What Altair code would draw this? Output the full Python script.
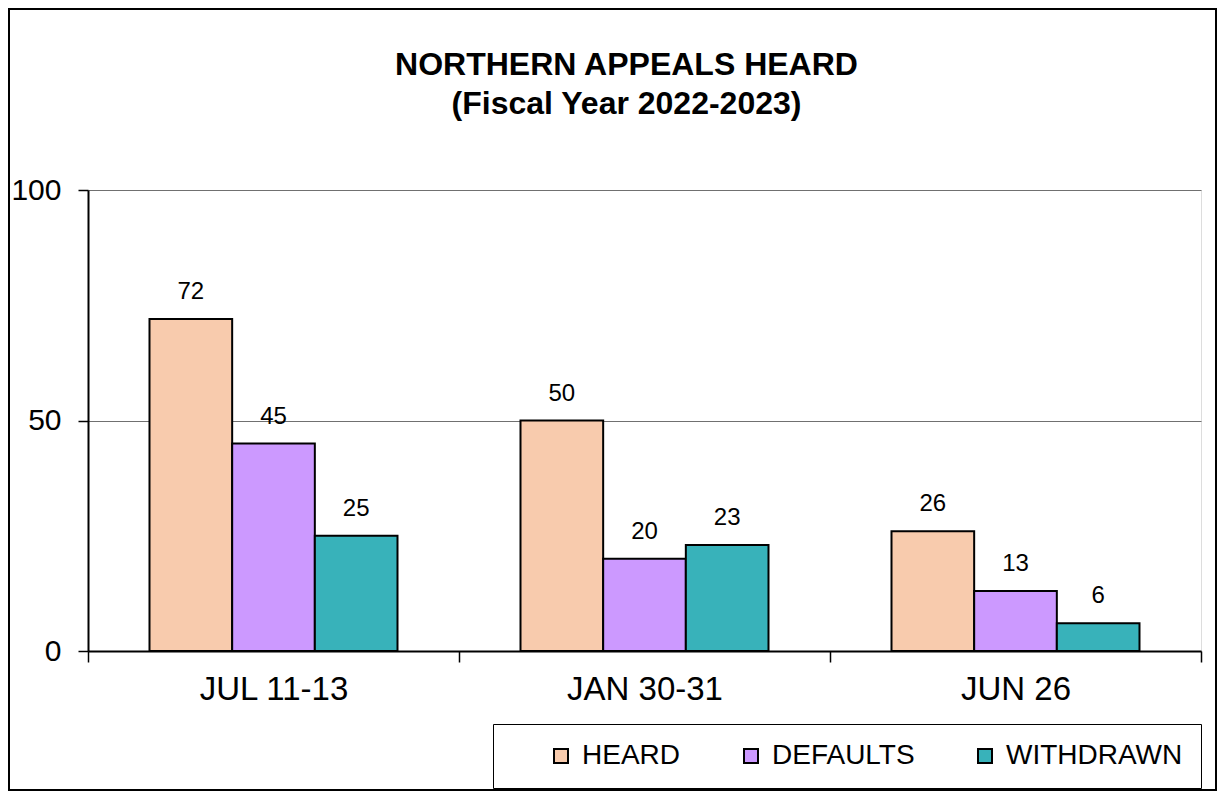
import altair as alt
import pandas as pd

categories = ["JUL 11-13", "JAN 30-31", "JUN 26"]
series = ["HEARD", "DEFAULTS", "WITHDRAWN"]
heard = [72, 50, 26]
defaults = [45, 20, 13]
withdrawn = [25, 23, 6]
colors = ["#F8CBAD", "#CC99FF", "#38B2BA"]
title_lines = ["NORTHERN APPEALS HEARD", "(Fiscal Year 2022-2023)"]
y_ticks = [0, 50, 100]

rows = []
for i, c in enumerate(categories):
    for s, vals in zip(series, [heard, defaults, withdrawn]):
        rows.append({"period": c, "series": s, "value": vals[i]})
df = pd.DataFrame(rows)

W, H = 1113, 461
PL, PT, PR, PB = 80, 182, 16, 140

x = alt.X("period:N", sort=categories, title=None,
          scale=alt.Scale(paddingInner=0, paddingOuter=0),
          axis=alt.Axis(labelAngle=0, labelFontSize=33, labelFont="Liberation Sans",
                        labelColor="black", tickBand="extent", tickSize=11,
                        tickColor="black", tickWidth=1.5, domainColor="black",
                        domainWidth=2, labelPadding=11))
xo = alt.XOffset("series:N", sort=series,
                 scale=alt.Scale(paddingOuter=0.744, paddingInner=0))
y = alt.Y("value:Q", title=None,
          scale=alt.Scale(domain=[0, 100], nice=False),
          axis=alt.Axis(values=y_ticks, labelFontSize=30, labelFont="Liberation Sans",
                        labelColor="black", tickSize=10, tickColor="black",
                        tickWidth=1.5, domainColor="black", domainWidth=2,
                        labelPadding=17, grid=True, gridColor="#707070",
                        gridWidth=1.2))

color = alt.Color("series:N", sort=series,
                  scale=alt.Scale(domain=series, range=colors),
                  legend=alt.Legend(title=None, orient="none", direction="horizontal",
                                    legendX=405, legendY=534,
                                    symbolType="square", symbolSize=196,
                                    symbolStrokeColor="black", symbolStrokeWidth=2,
                                    symbolOpacity=1, labelLimit=400,
                                    labelFontSize=28, labelFont="Liberation Sans",
                                    labelColor="black", labelOffset=7,
                                    columnPadding=20, symbolOffset=36,
                                    padding=18, strokeColor="black",
                                    fillColor="white"))

base = alt.Chart(df).encode(x=x, xOffset=xo)

bars = base.mark_bar(stroke="black", strokeWidth=2).encode(y=y, color=color)

labels = base.mark_text(baseline="bottom", dy=-15, fontSize=24,
                        font="Liberation Sans", color="black").encode(
    y=alt.Y("value:Q"), text=alt.Text("value:Q"))

border = alt.Chart(pd.DataFrame({"k": [0]})).mark_rect(
    fill=None, stroke="black", strokeWidth=2).encode(
    x=alt.value(-PL + 1), x2=alt.value(W + PR - 1),
    y=alt.value(-PT + 1), y2=alt.value(H + PB - 1))

chart = alt.layer(border, bars, labels).properties(
    width=W, height=H,
    autosize=alt.AutoSizeParams(type="none"),
    padding={"left": PL, "top": PT, "right": PR, "bottom": PB},
    title=alt.TitleParams(text=title_lines, fontSize=32, font="Liberation Sans",
                          fontWeight="bold", color="black", anchor="middle",
                          lineHeight=39, offset=-113, dx=-18, frame="group"),
).configure_view(stroke="#808080", strokeWidth=2).configure(background="white")

chart.save("out.html", embed_options={"renderer": "svg", "actions": False})
